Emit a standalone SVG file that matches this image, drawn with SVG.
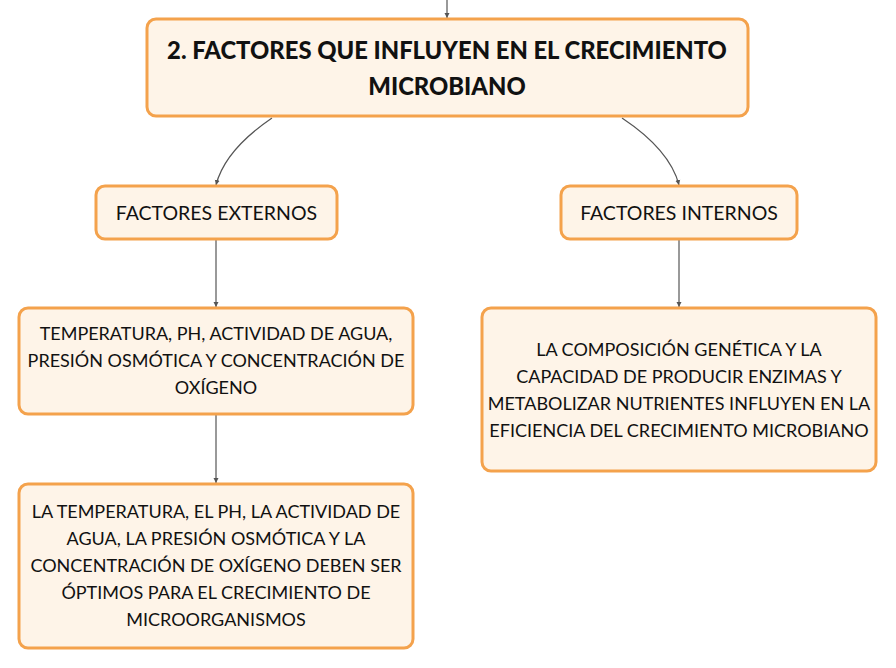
<svg xmlns="http://www.w3.org/2000/svg" width="896" height="668" viewBox="0 0 896 668">
<style>
.box{fill:#FEF4E8;stroke:#F4A24C;stroke-width:3}
.t{font-family:Lato,"Noto Sans",sans-serif;font-size:18px;fill:#111;text-anchor:middle}
.l{font-family:Lato,"Noto Sans",sans-serif;font-size:19.5px;fill:#111;text-anchor:middle}
.h{font-family:Lato,"Noto Sans",sans-serif;font-size:23.8px;font-weight:900;fill:#111;text-anchor:middle}
.c{fill:none;stroke:#555;stroke-width:1.2}
</style>
<defs>
<marker id="a" markerWidth="6" markerHeight="6" refX="5" refY="3" orient="auto" markerUnits="userSpaceOnUse">
<path d="M0,0.5 L5,3 L0,5.5 z" fill="#555"/>
</marker>
</defs>
<rect width="896" height="668" fill="#fff"/>
<g id="connectors">
<path class="c" d="M447,0 L447,18" marker-end="url(#a)"/>
<path class="c" d="M272,118 Q225,150 216,185" marker-end="url(#a)"/>
<path class="c" d="M622,118 Q670,150 679,185" marker-end="url(#a)"/>
<path class="c" d="M216,240 L216,307" marker-end="url(#a)"/>
<path class="c" d="M216,415 L216,483" marker-end="url(#a)"/>
<path class="c" d="M679,240 L679,307" marker-end="url(#a)"/>
</g>
<g id="main">
<rect class="box" x="147" y="19" width="601" height="97" rx="9"/>
<text class="h" x="447" y="58.5">2. FACTORES QUE INFLUYEN EN EL CRECIMIENTO</text>
<text class="h" x="447" y="94.5">MICROBIANO</text>
</g>
<g id="externos">
<rect class="box" x="96" y="186" width="241" height="53" rx="9"/>
<text class="l" x="216.5" y="220">FACTORES EXTERNOS</text>
</g>
<g id="internos">
<rect class="box" x="561" y="186" width="236" height="53" rx="9"/>
<text class="l" x="679" y="220">FACTORES INTERNOS</text>
</g>
<g id="ext1">
<rect class="box" x="19" y="308" width="394" height="106" rx="9"/>
<text class="t" x="216" y="339.5">TEMPERATURA, PH, ACTIVIDAD DE AGUA,</text>
<text class="t" x="216" y="366.5">PRESIÓN OSMÓTICA Y CONCENTRACIÓN DE</text>
<text class="t" x="216" y="393.5">OXÍGENO</text>
</g>
<g id="ext2">
<rect class="box" x="19" y="484" width="394" height="164" rx="9"/>
<text class="t" x="216" y="517.5">LA TEMPERATURA, EL PH, LA ACTIVIDAD DE</text>
<text class="t" x="216" y="544.5">AGUA, LA PRESIÓN OSMÓTICA Y LA</text>
<text class="t" x="216" y="571.5">CONCENTRACIÓN DE OXÍGENO DEBEN SER</text>
<text class="t" x="216" y="598.5">ÓPTIMOS PARA EL CRECIMIENTO DE</text>
<text class="t" x="216" y="625.5">MICROORGANISMOS</text>
</g>
<g id="int1">
<rect class="box" x="482" y="308" width="394" height="163" rx="9"/>
<text class="t" x="679" y="355.5">LA COMPOSICIÓN GENÉTICA Y LA</text>
<text class="t" x="679" y="382.5">CAPACIDAD DE PRODUCIR ENZIMAS Y</text>
<text class="t" x="679" y="409.5">METABOLIZAR NUTRIENTES INFLUYEN EN LA</text>
<text class="t" x="679" y="436.5">EFICIENCIA DEL CRECIMIENTO MICROBIANO</text>
</g>
</svg>
